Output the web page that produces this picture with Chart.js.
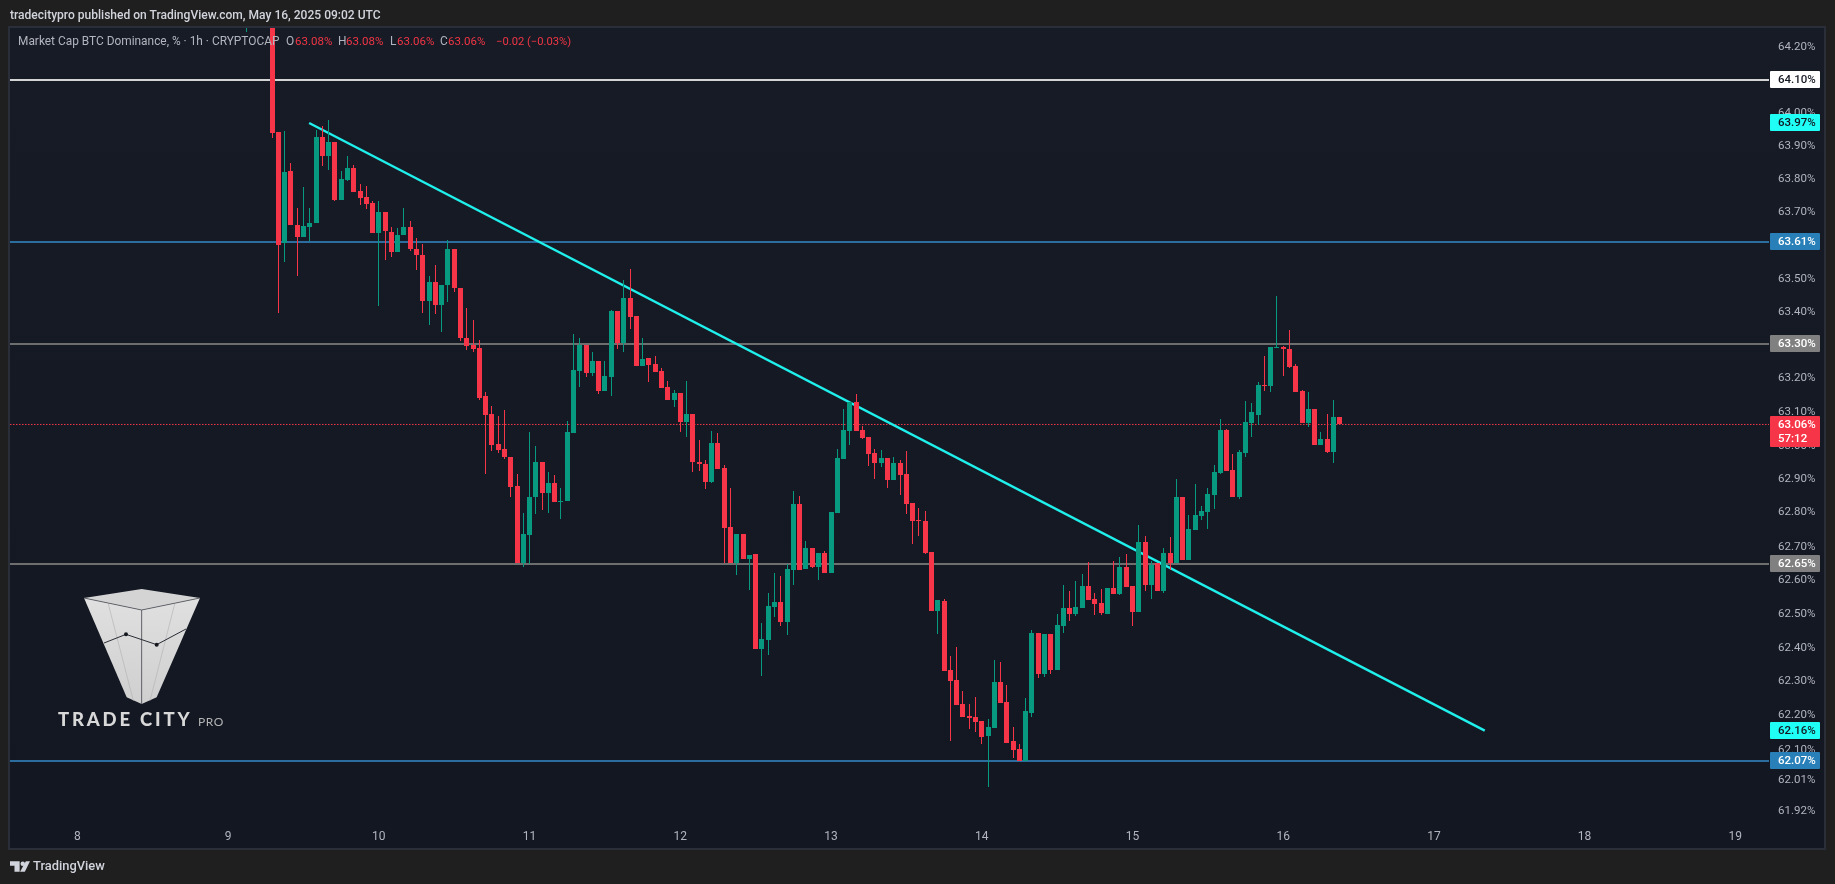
<!DOCTYPE html>
<html>
<head>
<meta charset="utf-8">
<title>BTC Dominance</title>
<script src="https://cdn.jsdelivr.net/npm/chart.js@4"></script>
<style>
html,body{margin:0;padding:0;width:1835px;height:884px;overflow:hidden;background:#1f1f1f;}
#wrap{position:relative;width:1835px;height:884px;}
canvas{position:absolute;left:0;top:0;}
.t{position:absolute;white-space:nowrap;font-family:Roboto,sans-serif;line-height:1;}
.g{color:#b2b5be;font-size:11.9px;}
.r{color:#f23645;font-size:11.5px;}
</style>
</head>
<body>
<div id="wrap">
<canvas id="c" width="1835" height="884"></canvas>
<div class="t" style="left:10px;top:9px;font-size:12.05px;font-weight:500;color:#d1d4dc;">tradecitypro published on TradingView.com, May 16, 2025 09:02 UTC</div>
<div class="t g" style="left:18px;top:36px;">Market Cap BTC Dominance, % · 1h · CRYPTOCAP</div>
<div class="t g" style="left:286px;top:36px;">O</div><div class="t r" style="left:295px;top:36px;">63.08%</div>
<div class="t g" style="left:338px;top:36px;">H</div><div class="t r" style="left:346px;top:36px;">63.08%</div>
<div class="t g" style="left:390px;top:36px;">L</div><div class="t r" style="left:397px;top:36px;">63.06%</div>
<div class="t g" style="left:440px;top:36px;">C</div><div class="t r" style="left:448px;top:36px;">63.06%</div>
<div class="t r" style="left:496px;top:36px;font-size:11.2px;">−0.02 (−0.03%)</div>
<svg style="position:absolute;left:0;top:570px" width="300" height="160" viewBox="0 0 900 480">
  <defs><linearGradient id="lg" x1="0" y1="0" x2="0" y2="1"><stop offset="0" stop-color="#e0e0e0"/><stop offset="1" stop-color="#cfcfcf"/></linearGradient></defs>
  <polygon points="252,84 425,57 600,84 425,120" fill="#d4d4d4"/>
  <polygon points="252,84 425,120 425,402 380,382" fill="url(#lg)"/>
  <polygon points="600,84 425,120 425,402 470,382" fill="url(#lg)"/>
  <polyline points="252,84 425,120 600,84" fill="none" stroke="#55585f" stroke-width="2.5"/>
  <line x1="425" y1="120" x2="425" y2="402" stroke="#55585f" stroke-width="2.5"/>
  <line x1="325" y1="102" x2="400" y2="392" stroke="#b4b4b4" stroke-width="2"/>
  <line x1="524" y1="102" x2="450" y2="392" stroke="#b4b4b4" stroke-width="2"/>
  <polyline points="312,219 378,193 470,224 558,177" fill="none" stroke="#2a2d35" stroke-width="3"/>
  <circle cx="378" cy="193" r="6" fill="#15181f"/><circle cx="470" cy="224" r="6" fill="#15181f"/>
</svg>
<div class="t" style="left:58px;top:710px;font-family:Lato,sans-serif;font-weight:900;font-size:18.5px;letter-spacing:2.8px;color:#d8d8d8;">TRADE CITY</div>
<div class="t" style="left:198px;top:716px;font-family:Lato,sans-serif;font-weight:400;font-size:12px;letter-spacing:.5px;color:#b4b4b4;">PRO</div>
<svg style="position:absolute;left:10px;top:861px" width="20" height="11" viewBox="30 873 58 30">
  <polygon points="30,873 58,873 58,903 43,903 43,886 30,886" fill="#d1d4dc"/>
  <circle cx="67" cy="880" r="6.5" fill="#d1d4dc"/>
  <polygon points="76,873 88,873 73,903 59,903" fill="#d1d4dc"/>
</svg>
<div class="t" style="left:33px;top:860px;font-size:12.9px;font-weight:500;color:#d1d4dc;">TradingView</div>
</div>
<script>
const candleHours=[27,31,32,33,34,35,36,37,38,39,40,41,42,43,44,45,46,47,48,49,50,51,52,53,54,55,56,57,58,59,60,61,62,63,64,65,66,67,68,69,70,71,72,73,74,75,76,77,78,79,80,81,82,83,84,85,86,87,88,89,90,91,92,93,94,95,96,97,98,99,100,101,102,103,104,105,106,107,108,109,110,111,112,113,114,115,116,117,118,119,120,121,122,123,124,125,126,127,128,129,130,131,132,133,134,135,136,137,138,139,140,141,142,143,144,145,146,147,148,149,150,151,152,153,154,155,156,157,158,159,160,161,162,163,164,165,166,167,168,169,170,171,172,173,174,175,176,177,178,179,180,181,182,183,184,185,186,187,188,189,190,191,192,193,194,195,196,197,198,199,200,201];
const opens=[64.50,64.60,63.942,63.607,63.825,63.663,63.625,63.657,63.667,63.927,63.871,63.912,63.739,63.798,63.834,63.765,63.747,63.729,63.637,63.702,63.642,63.580,63.631,63.657,63.591,63.573,63.433,63.492,63.421,63.481,63.591,63.474,63.324,63.303,63.294,
63.149,63.098,63.006,62.991,62.970,62.881,62.653,62.738,62.849,62.955,62.861,62.890,62.837,62.837,63.040,63.225,63.304,63.219,63.256,63.165,63.207,63.405,63.310,63.444,63.390,63.239,63.265,63.247,63.224,63.176,63.137,63.158,63.072,63.098,62.955,62.949,62.893,63.009,62.935,62.762,62.653,62.741,62.666,
62.681,62.400,62.427,62.524,62.539,62.480,62.634,62.829,62.637,62.699,62.642,62.684,62.625,62.802,62.962,63.047,63.133,63.050,63.027,62.979,62.950,62.965,62.900,62.950,62.917,62.832,62.781,62.778,62.687,62.512,62.542,62.338,62.309,62.238,62.202,62.199,62.187,62.143,62.167,62.303,62.244,62.128,62.105,62.072,
62.211,62.447,62.326,62.444,62.338,62.468,62.521,62.503,62.521,62.586,62.548,62.536,62.503,62.580,62.562,62.642,62.586,62.509,62.716,62.589,62.654,62.571,62.684,62.654,62.851,62.664,62.753,62.792,62.804,62.857,62.920,63.048,62.929,62.851,62.979,63.071,63.095,63.182,63.179,63.295,63.298,63.292,63.241,63.164,63.071,63.110,63.003,63.021,62.982,63.089];
const highs=[64.70,64.70,63.942,63.945,63.849,63.714,63.776,63.714,63.948,63.960,63.978,63.912,63.825,63.870,63.843,63.786,63.780,63.735,63.735,63.702,63.657,63.654,63.714,63.675,63.624,63.606,63.510,63.543,63.483,63.618,63.591,63.474,63.414,63.378,63.318,
63.161,63.119,63.090,63.107,62.970,62.917,62.801,63.042,63.000,62.955,62.923,62.914,62.875,63.075,63.334,63.322,63.304,63.283,63.256,63.256,63.408,63.405,63.498,63.530,63.390,63.322,63.265,63.271,63.233,63.194,63.167,63.158,63.194,63.098,63.018,62.961,63.045,63.039,62.944,62.875,62.741,62.741,62.678,
62.681,62.477,62.566,62.625,62.616,62.651,62.867,62.852,62.719,62.699,62.684,62.690,62.805,62.991,63.112,63.133,63.157,63.062,63.027,62.991,62.988,62.965,62.968,62.959,62.985,62.832,62.817,62.808,62.687,62.545,62.548,62.379,62.406,62.276,62.238,62.258,62.187,62.193,62.368,62.362,62.294,62.170,62.122,62.255,
62.456,62.447,62.444,62.444,62.503,62.589,62.571,62.601,62.622,62.657,62.565,62.577,62.580,62.660,62.672,62.681,62.586,62.768,62.735,62.660,62.654,62.698,62.732,62.902,62.851,62.795,62.887,62.824,62.875,62.946,63.083,63.051,62.976,62.988,63.134,63.128,63.193,63.271,63.298,63.449,63.301,63.348,63.247,63.167,63.161,63.110,63.042,63.098,63.137,63.089];
const lows=[64.245,63.925,63.397,63.550,63.661,63.508,63.625,63.615,63.667,63.841,63.829,63.735,63.739,63.795,63.763,63.724,63.712,63.637,63.418,63.556,63.565,63.580,63.631,63.583,63.526,63.397,63.361,63.394,63.340,63.430,63.460,63.316,63.289,63.283,63.139,
62.917,62.986,62.979,62.962,62.851,62.653,62.643,62.650,62.798,62.812,62.801,62.834,62.783,62.837,63.040,63.176,63.206,63.209,63.155,63.165,63.149,63.292,63.283,63.349,63.239,63.239,63.191,63.221,63.173,63.137,63.116,63.042,63.027,62.923,62.926,62.872,62.890,62.932,62.653,62.653,62.619,62.666,62.574,
62.400,62.320,62.382,62.495,62.468,62.442,62.589,62.634,62.637,62.640,62.604,62.625,62.625,62.802,62.962,63.003,63.047,63.021,62.941,62.902,62.938,62.876,62.900,62.855,62.799,62.710,62.734,62.681,62.512,62.444,62.335,62.128,62.235,62.199,62.164,62.155,62.122,61.995,62.167,62.241,62.125,62.081,62.072,62.072,
62.199,62.314,62.317,62.326,62.338,62.447,62.483,62.497,62.521,62.545,62.500,62.500,62.503,62.562,62.559,62.583,62.468,62.509,62.571,62.548,62.571,62.565,62.633,62.654,62.664,62.664,62.753,62.780,62.756,62.813,62.917,62.926,62.851,62.845,62.970,63.027,63.063,63.164,63.161,63.295,63.211,63.235,63.161,63.071,63.057,63.003,63.003,62.979,62.952,63.066];
const closes=[64.60,63.940,63.603,63.822,63.661,63.625,63.660,63.669,63.927,63.871,63.912,63.739,63.801,63.834,63.763,63.745,63.727,63.637,63.702,63.643,63.580,63.633,63.657,63.589,63.571,63.433,63.492,63.421,63.483,63.591,63.472,63.322,63.301,63.291,63.145,
63.095,63.004,62.989,62.968,62.879,62.653,62.741,62.851,62.955,62.861,62.890,62.834,62.839,63.042,63.227,63.304,63.219,63.256,63.165,63.209,63.405,63.310,63.444,63.387,63.239,63.262,63.244,63.221,63.173,63.137,63.158,63.072,63.098,62.955,62.947,62.893,63.009,62.932,62.759,62.653,62.741,62.666,62.678,
62.400,62.430,62.527,62.539,62.480,62.637,62.829,62.634,62.699,62.642,62.684,62.625,62.805,62.965,63.050,63.133,63.047,63.024,62.976,62.950,62.965,62.900,62.950,62.914,62.829,62.778,62.778,62.684,62.512,62.545,62.335,62.306,62.235,62.199,62.196,62.184,62.140,62.170,62.303,62.241,62.125,62.102,62.072,62.217,
62.447,62.326,62.444,62.338,62.471,62.521,62.503,62.524,62.586,62.545,62.533,62.506,62.580,62.562,62.642,62.583,62.509,62.716,62.589,62.648,62.571,62.684,62.654,62.851,62.664,62.756,62.795,62.807,62.860,62.923,63.048,62.926,62.851,62.982,63.074,63.104,63.182,63.179,63.298,63.298,63.292,63.238,63.161,63.071,63.110,63.003,63.021,62.982,63.089,63.066];

const levelPrices=[64.10,63.6114,63.3056,62.6513,62.071];
const levelLabels=["64.10%","63.61%","63.30%","62.65%","62.07%"];
const levelLineColors=["#d4d4d4","#2a6d9e","#6e6e6e","#6e6e6e","#2a6d9e"];
const levelBadgeColors=["#ffffff","#2980b9","#808080","#808080","#2980b9"];
const levelTextColors=["#131722","#ffffff","#ffffff","#ffffff","#ffffff"];

const trendHours=[36.9,224.1];
const trendPrices=[63.97,62.16];
const trendLabels=["63.97%","62.16%"];

const lastPrice=63.0654;
const lastLabels=["63.06%","57:12"];

const dayHours=[0,24,48,72,96,120,144,168,192,216,240,264];
const dayLabels=["8","9","10","11","12","13","14","15","16","17","18","19"];
const priceTicks=[64.20,64.10,64.00,63.90,63.80,63.70,63.60,63.50,63.40,63.30,63.203,63.103,63.00,62.904,62.804,62.702,62.604,62.504,62.404,62.304,62.204,62.104,62.014,61.924];

const UP="#089981",DOWN="#f63648",CYAN="#1ff0ec",AXIS="#b2b5be";
const xMin=-10.732,xMax=269.36,yMin=61.898,yMax=64.2576;
const isDown=closes.map((c,i)=>c<opens[i]);
const colours=isDown.map(d=>d?DOWN:UP);
const FONT="Roboto, sans-serif";

const levelSets=levelPrices.map((p,i)=>({type:"line",order:10,data:[{x:xMin,y:p},{x:xMax,y:p}],borderColor:levelLineColors[i],borderWidth:2,pointRadius:0,tension:0}));

const crisp={id:"crisp",afterDatasetsUpdate(chart){
  chart.getSortedVisibleDatasetMetas().forEach(m=>{
    if(m.type!=="bar")return;
    m.data.forEach(el=>{
      el.x=Math.floor(el.x)+0.5;
      let y=Math.round(el.y),b=Math.round(el.base);
      if(y===b)b=y+1;
      el.y=y;el.base=b;
    });
  });
}};
const frame={id:"frame",beforeDraw(chart){
  const c=chart.ctx;
  c.save();
  c.fillStyle="#1f1f1f";c.fillRect(0,0,1835,884);
  c.fillStyle="#2a2e39";c.fillRect(8,26,1818,824);
  const g=c.createLinearGradient(0,28,0,848);
  g.addColorStop(0,"#171b26");g.addColorStop(1,"#131722");
  c.fillStyle=g;c.fillRect(10,28,1814,820);
  c.restore();
}};
function badge(c,y,h,bg,fg,lines){
  c.fillStyle=bg;
  c.beginPath();c.roundRect(1770,Math.round(y-h/2),50,h,1);c.fill();
  c.fillStyle=fg;c.font="500 11.5px "+FONT;c.textAlign="left";c.textBaseline="middle";
  lines.forEach((t,i)=>c.fillText(t,1778,y+0.5));
}
const badges={id:"badges",afterDraw(chart){
  const c=chart.ctx,ys=chart.scales.y;
  c.save();
  levelPrices.forEach((p,i)=>badge(c,ys.getPixelForValue(p),17,levelBadgeColors[i],levelTextColors[i],[levelLabels[i]]));
  trendPrices.forEach((p,i)=>badge(c,ys.getPixelForValue(p),17,"#1ffff5","#131722",[trendLabels[i]]));
  const ly=ys.getPixelForValue(lastPrice);
  c.fillStyle=DOWN;c.beginPath();c.roundRect(1770,Math.round(ly-8),50,31,1);c.fill();
  c.fillStyle="#ffffff";c.font="500 11.5px "+FONT;c.textAlign="left";c.textBaseline="middle";
  c.fillText(lastLabels[0],1778,ly+0.5);c.fillText(lastLabels[1],1778,ly+14.5);
  c.restore();
}};

new Chart(document.getElementById("c"),{
  data:{datasets:[
    {type:"bar",order:1,grouped:false,barThickness:5,inflateAmount:0,borderWidth:0,data:candleHours.map((h,i)=>({x:h,y:[opens[i],closes[i]]})),backgroundColor:colours},
    {type:"bar",order:2,grouped:false,barThickness:1,inflateAmount:0,borderWidth:0,data:candleHours.map((h,i)=>({x:h,y:[lows[i],highs[i]]})),backgroundColor:colours},
    {type:"line",order:5,data:[{x:trendHours[0],y:trendPrices[0]},{x:trendHours[1],y:trendPrices[1]}],borderColor:CYAN,borderWidth:2.4,pointRadius:0,tension:0},
    {type:"line",order:9,data:[{x:xMin,y:lastPrice},{x:xMax,y:lastPrice}],borderColor:DOWN,borderWidth:1,borderDash:[1.5,1.5],pointRadius:0,tension:0},
    ...levelSets
  ]},
  options:{
    responsive:false,animation:false,devicePixelRatio:1,
    layout:{padding:{left:10,top:28,right:11,bottom:36}},
    plugins:{legend:{display:false},tooltip:{enabled:false},title:{display:false}},
    events:[],
    scales:{
      x:{type:"linear",min:xMin,max:xMax,offset:false,
        grid:{display:false},border:{display:false},
        afterBuildTicks(s){s.ticks=dayHours.map(v=>({value:v}));},
        afterFit(s){s.height=28;},
        ticks:{autoSkip:false,maxRotation:0,padding:1.5,color:AXIS,font:{family:FONT,size:12},
          callback(v){const k=dayHours.indexOf(v);return k<0?"":dayLabels[k];}}
      },
      y:{type:"logarithmic",position:"right",min:yMin,max:yMax,
        grid:{display:false},border:{display:false},
        afterBuildTicks(s){s.ticks=priceTicks.map(v=>({value:v}));},
        afterFit(s){s.width=55;},
        ticks:{autoSkip:false,padding:1,color:AXIS,font:{family:FONT,size:11.5},
          callback(v){return v.toFixed(2)+"%";}}
      }
    }
  },
  plugins:[frame,crisp,badges]
});
</script>
</body>
</html>
